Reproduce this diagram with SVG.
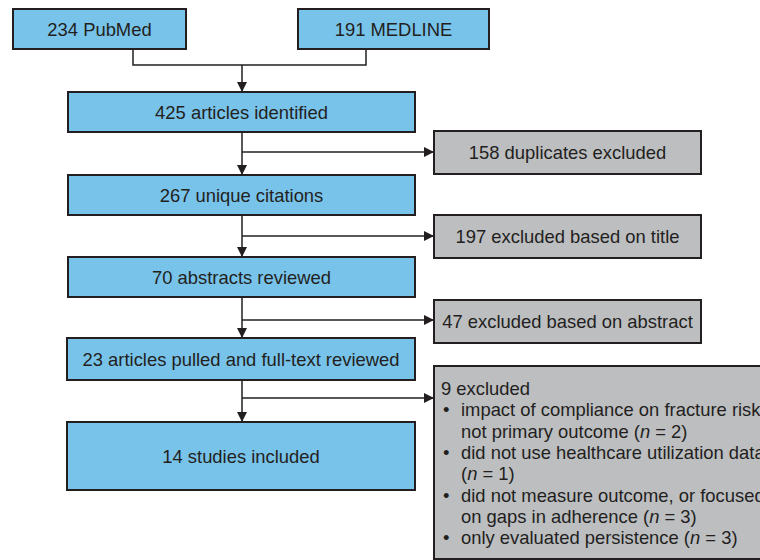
<svg xmlns="http://www.w3.org/2000/svg" width="760" height="560" viewBox="0 0 760 560">
<style>
.b{fill:#78c3ea;stroke:#231f20;stroke-width:2}
.g{fill:#bcbec0;stroke:#231f20;stroke-width:2}
text{font-family:"Liberation Sans",Arial,sans-serif;font-size:18.4px;fill:#231f20}
.c{text-anchor:middle}
.l{fill:none;stroke:#231f20;stroke-width:1.5}
</style>
<defs>
<marker id="a" markerWidth="10" markerHeight="10" refX="9" refY="5" orient="auto" markerUnits="userSpaceOnUse">
<path d="M0,0 L10,5 L0,10 Z" fill="#231f20"/>
</marker>
</defs>
<g id="connectors">
<path class="l" d="M133,49 V65 H366 V49"/>
<path class="l" d="M242,65 V91" marker-end="url(#a)"/>
<path class="l" d="M242,132 V174" marker-end="url(#a)"/>
<path class="l" d="M242,152 H433" marker-end="url(#a)"/>
<path class="l" d="M242,215 V256" marker-end="url(#a)"/>
<path class="l" d="M242,236 H433" marker-end="url(#a)"/>
<path class="l" d="M242,297 V337" marker-end="url(#a)"/>
<path class="l" d="M242,320 H433" marker-end="url(#a)"/>
<path class="l" d="M242,380 V421" marker-end="url(#a)"/>
<path class="l" d="M242,398 H433" marker-end="url(#a)"/>
</g>
<g id="pubmed"><rect class="b" x="13" y="9" width="173" height="40"/><text class="c" x="99.5" y="35.5">234 PubMed</text></g>
<g id="medline"><rect class="b" x="298" y="9" width="191" height="40"/><text class="c" x="393.5" y="35.5">191 MEDLINE</text></g>
<g id="identified"><rect class="b" x="68" y="92" width="347" height="40"/><text class="c" x="241.5" y="118.5">425 articles identified</text></g>
<g id="duplicates"><rect class="g" x="434" y="131" width="267" height="43"/><text class="c" x="567.5" y="158.5">158 duplicates excluded</text></g>
<g id="unique"><rect class="b" x="68" y="175" width="347" height="40"/><text class="c" x="241.5" y="201.5">267 unique citations</text></g>
<g id="title"><rect class="g" x="434" y="215" width="267" height="43"/><text class="c" x="567.5" y="242.5">197 excluded based on title</text></g>
<g id="abstracts"><rect class="b" x="68" y="257" width="347" height="40"/><text class="c" x="241.5" y="283.5">70 abstracts reviewed</text></g>
<g id="abstract-ex"><rect class="g" x="434" y="300" width="267" height="43"/><text class="c" x="567.5" y="327.5">47 excluded based on abstract</text></g>
<g id="fulltext"><rect class="b" x="67" y="338" width="348" height="42"/><text class="c" x="241" y="365.5">23 articles pulled and full-text reviewed</text></g>
<g id="included"><rect class="b" x="67" y="422" width="348" height="68"/><text class="c" x="241" y="462.5">14 studies included</text></g>
<g id="nine-ex"><rect class="g" x="434" y="366" width="340" height="193"/>
<text x="441" y="395">9 excluded</text>
<text x="443" y="416">•</text><text x="461" y="416">impact of compliance on fracture risk</text>
<text x="461" y="438">not primary outcome (<tspan font-style="italic">n</tspan> = 2)</text>
<text x="443" y="459">•</text><text x="461" y="459">did not use healthcare utilization data</text>
<text x="461" y="480">(<tspan font-style="italic">n</tspan> = 1)</text>
<text x="443" y="502">•</text><text x="461" y="502">did not measure outcome, or focused</text>
<text x="461" y="523">on gaps in adherence (<tspan font-style="italic">n</tspan> = 3)</text>
<text x="443" y="544">•</text><text x="461" y="544">only evaluated persistence (<tspan font-style="italic">n</tspan> = 3)</text>
</g>
</svg>
